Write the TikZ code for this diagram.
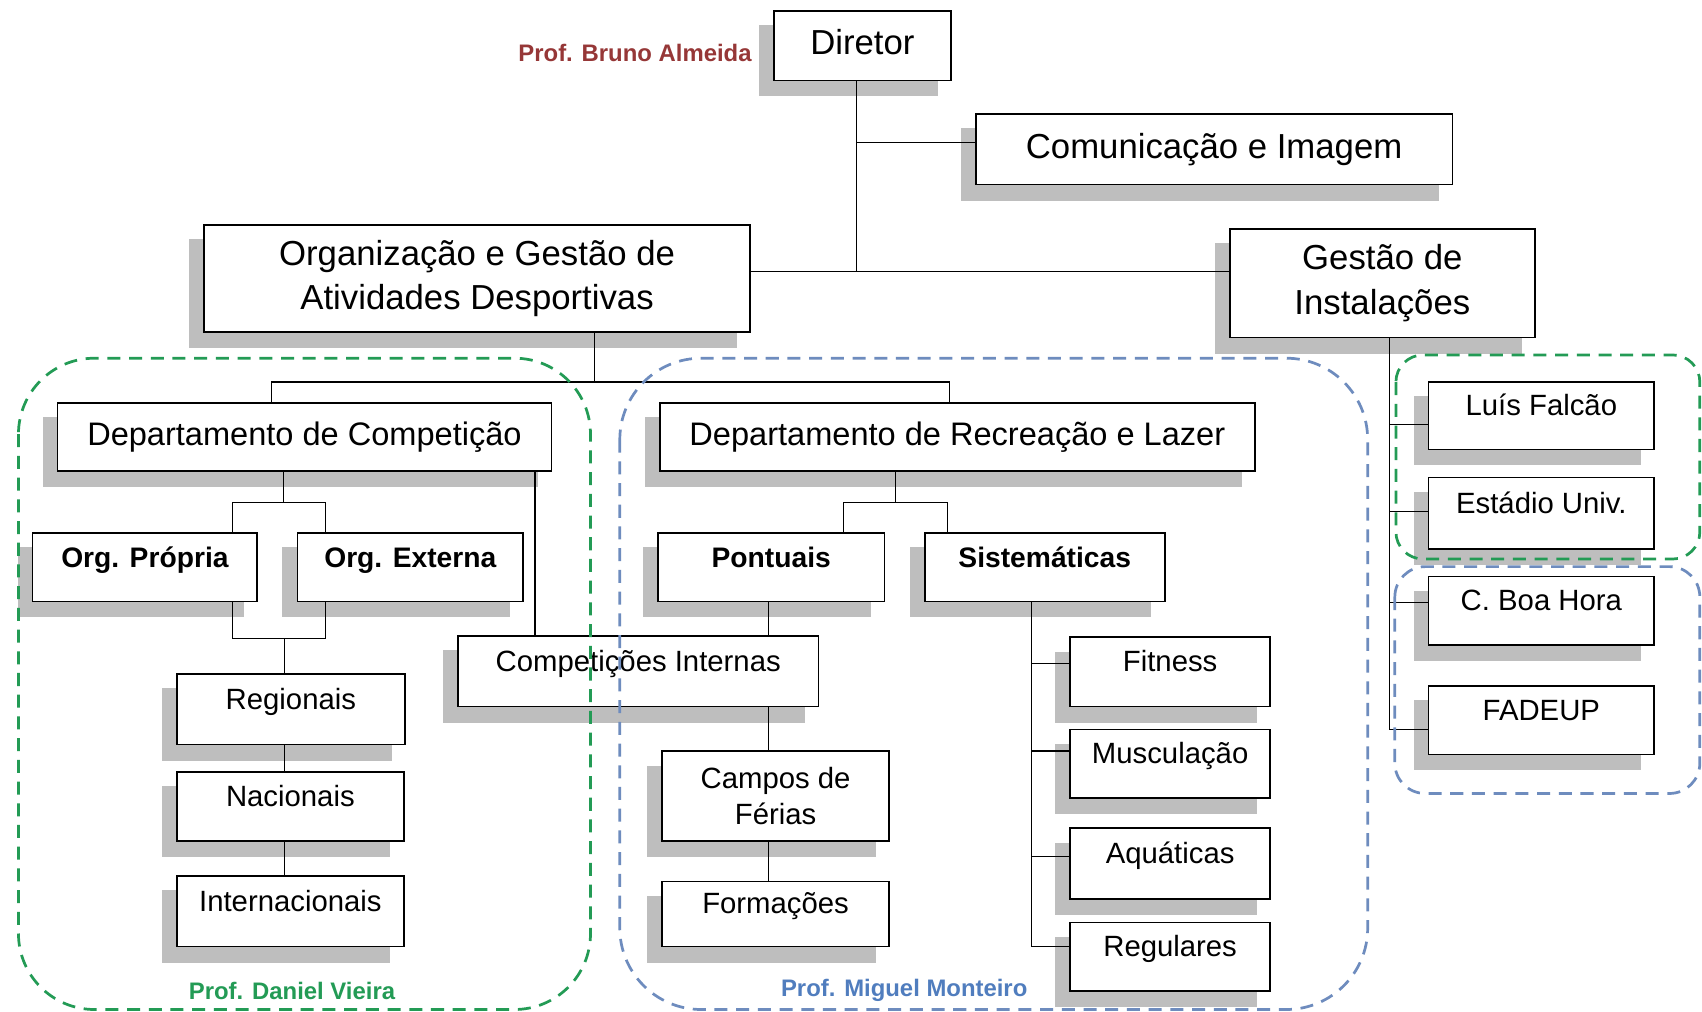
\documentclass[tikz,border=0pt]{standalone}
\usepackage{fontspec}
\setmainfont{Liberation Sans}
\usetikzlibrary{calc}
\pgfdeclarelayer{bg}
\pgfdeclarelayer{shadow}
\pgfdeclarelayer{conn}
\pgfdeclarelayer{fg}
\pgfsetlayers{bg,shadow,conn,main,fg}
\definecolor{grn}{RGB}{35,155,85}
\definecolor{blu}{RGB}{110,140,190}
\definecolor{blutxt}{RGB}{80,125,190}
\definecolor{redtxt}{RGB}{150,55,55}
\definecolor{shd}{RGB}{190,190,190}
\tikzset{
  box/.style={draw=black, line width=1.5pt, fill=white, rectangle, inner sep=0pt},
  bigA/.style={box, font=\fontsize{32}{41}\selectfont, text height=23.5pt, text depth=7pt},
  bigB/.style={box, font=\fontsize{30}{41}\selectfont, text height=22pt, text depth=6.5pt},
  bigtwo/.style={box, font=\fontsize{32}{41}\selectfont, align=center},
  smallbox/.style={box, font=\fontsize{27}{33}\selectfont, text height=10pt, text depth=10pt},
  smalltwo/.style={box, font=\fontsize{27}{33}\selectfont, align=center},
  boldbox/.style={box, font=\fontsize{26}{33}\selectfont\bfseries, text height=10pt, text depth=10pt},
  conn/.style={line width=1.2pt, draw=black},
  frame/.style={line width=2.5pt, dash pattern=on 12pt off 8pt},
  proflabel/.style={font=\fontsize{22}{26}\selectfont\bfseries, inner sep=0pt},
}
\begin{document}
\begin{tikzpicture}[x=1pt,y=-1pt]
\begin{pgfonlayer}{bg}
\fill[white] (0,0) rectangle (1568,932);
\end{pgfonlayer}
\useasboundingbox (0,0) rectangle (1568,932);

% boxes
\node[bigA, minimum width=163pt, minimum height=64pt] (dir) at (794.5,42) {Diretor};
\node[bigA, minimum width=439pt, minimum height=65pt] (com) at (1118.5,137.5) {Comunicação e Imagem};
\node[bigtwo, minimum width=503pt, minimum height=99pt] (ogad) at (439.5,256.5) {Organização e Gestão de\\Atividades Desportivas};
\node[bigtwo, minimum width=281pt, minimum height=100pt] (gest) at (1273.5,261) {Gestão de\\Instalações};
\node[bigB, minimum width=455pt, minimum height=63pt] (dc) at (280.5,402.5) {Departamento de Competição};
\node[bigB, minimum width=548pt, minimum height=63pt] (drl) at (882,402.5) {Departamento de Recreação e Lazer};
\node[boldbox, minimum width=207pt, minimum height=63pt] (op) at (133.5,522.5) {Org. Própria};
\node[boldbox, minimum width=208pt, minimum height=63pt] (oe) at (378,522.5) {Org. Externa};
\node[boldbox, minimum width=209pt, minimum height=63pt] (pont) at (710.5,522.5) {Pontuais};
\node[boldbox, minimum width=221pt, minimum height=63pt] (sist) at (962.5,522.5) {Sistemáticas};
\node[smallbox, minimum width=332pt, minimum height=65pt] (ci) at (588,618.5) {Competições Internas};
\node[smallbox, minimum width=210pt, minimum height=65pt] (reg) at (268,653.5) {Regionais};
\node[smallbox, minimum width=209pt, minimum height=64pt] (nac) at (267.5,743) {Nacionais};
\node[smallbox, minimum width=209pt, minimum height=65pt] (int) at (267.5,839.5) {Internacionais};
\node[smalltwo, minimum width=209pt, minimum height=83pt] (cf) at (714.5,733.5) {Campos de\\Férias};
\node[smallbox, minimum width=209pt, minimum height=60pt] (form) at (714.5,842) {Formações};
\node[smallbox, minimum width=184pt, minimum height=64pt] (fit) at (1078,619) {Fitness};
\node[smallbox, minimum width=184pt, minimum height=63pt] (mus) at (1078,703.5) {Musculação};
\node[smallbox, minimum width=184pt, minimum height=65pt] (aq) at (1078,795.5) {Aquáticas};
\node[smallbox, minimum width=184pt, minimum height=63pt] (regu) at (1078,881.5) {Regulares};
\node[smallbox, minimum width=208pt, minimum height=62pt] (lf) at (1420,383) {Luís Falcão};
\node[smallbox, minimum width=208pt, minimum height=66pt] (est) at (1420,473) {Estádio Univ.};
\node[smallbox, minimum width=208pt, minimum height=63pt] (cbh) at (1420,562.5) {C. Boa Hora};
\node[smallbox, minimum width=208pt, minimum height=63pt] (fad) at (1420,663.5) {FADEUP};

% labels
\node[proflabel, text=redtxt] (pba) at (585,49) {Prof. Bruno Almeida};
\node[proflabel, text=grn] (pdv) at (269,913) {Prof. Daniel Vieira};
\node[proflabel, text=blutxt] (pmm) at (833,912) {Prof. Miguel Monteiro};

% shadows
\begin{pgfonlayer}{shadow}
\foreach \n in {dir,com,ogad,gest,dc,drl,op,oe,pont,sist,ci,reg,nac,int,cf,form,fit,mus,aq,regu,lf,est,cbh,fad}
  \fill[shd] ([xshift=-13pt,yshift=-14pt]\n.south west) rectangle ([xshift=-13pt,yshift=-14pt]\n.north east);
\end{pgfonlayer}

% junction coordinates
\coordinate (b0) at (789,131);
\coordinate (b1) at (789,250);
\coordinate (o1) at (548,352);
\coordinate (o1l) at (250,352);
\coordinate (o1r) at (875,352);
\coordinate (c1) at (261,463);
\coordinate (c1l) at (214,463);
\coordinate (c1r) at (300,463);
\coordinate (c2l) at (214,588);
\coordinate (c2r) at (300,588);
\coordinate (c2m) at (262,588);
\coordinate (c3) at (493,500);
\coordinate (p1) at (708,600);
\coordinate (r1) at (825,463);
\coordinate (r1l) at (777,463);
\coordinate (r1r) at (873,463);
\coordinate (sf) at (950,611);
\coordinate (sm) at (950,692);
\coordinate (sa) at (950,789);
\coordinate (s1) at (950,872);
\coordinate (gl) at (1280,391);
\coordinate (ge) at (1280,471);
\coordinate (gc) at (1280,555);
\coordinate (g1) at (1280,672);

% connectors
\begin{pgfonlayer}{conn}
\draw[conn] (dir.south -| b1) -- (b1);
\draw[conn] (b0) -- (com.west |- b0);
\draw[conn] (ogad.east |- b1) -- (gest.west |- b1);
\draw[conn] (ogad.south -| o1) -- (o1);
\draw[conn] (dc.north -| o1l) -- (o1l) -- (o1r) -- (drl.north -| o1r);
\draw[conn] (dc.south -| c1) -- (c1);
\draw[conn] (op.north -| c1l) -- (c1l) -- (c1r) -- (oe.north -| c1r);
\draw[conn] (op.south -| c2l) -- (c2l) -- (c2r) -- (oe.south -| c2r);
\draw[conn] (c2m) -- (reg.north -| c2m);
\draw[conn] (reg.south -| c2m) -- (nac.north -| c2m);
\draw[conn] (nac.south -| c2m) -- (int.north -| c2m);
\draw[conn] (dc.south -| c3) -- (ci.north -| c3);
\draw[conn] (pont.south -| p1) -- (ci.north -| p1);
\draw[conn] (ci.south -| p1) -- (cf.north -| p1);
\draw[conn] (cf.south -| p1) -- (form.north -| p1);
\draw[conn] (drl.south -| r1) -- (r1);
\draw[conn] (pont.north -| r1l) -- (r1l) -- (r1r) -- (sist.north -| r1r);
\draw[conn] (sist.south -| s1) -- (s1) -- (regu.west |- s1);
\draw[conn] (sf) -- (fit.west |- sf);
\draw[conn] (sm) -- (mus.west |- sm);
\draw[conn] (sa) -- (aq.west |- sa);
\draw[conn] (gest.south -| g1) -- (g1) -- (fad.west |- g1);
\draw[conn] (gl) -- (lf.west |- gl);
\draw[conn] (ge) -- (est.west |- ge);
\draw[conn] (gc) -- (cbh.west |- gc);
\end{pgfonlayer}

% dashed group frames
\begin{pgfonlayer}{fg}
\draw[frame, grn, rounded corners=70pt] (17,330) rectangle (544,930);
\draw[frame, blu, rounded corners=75pt] (571,330) rectangle (1260,930);
\draw[frame, grn, rounded corners=25pt] (1286,327) rectangle (1566,515);
\draw[frame, blu, rounded corners=28pt] (1285,522) rectangle (1566,731);
\end{pgfonlayer}
\end{tikzpicture}
\end{document}
